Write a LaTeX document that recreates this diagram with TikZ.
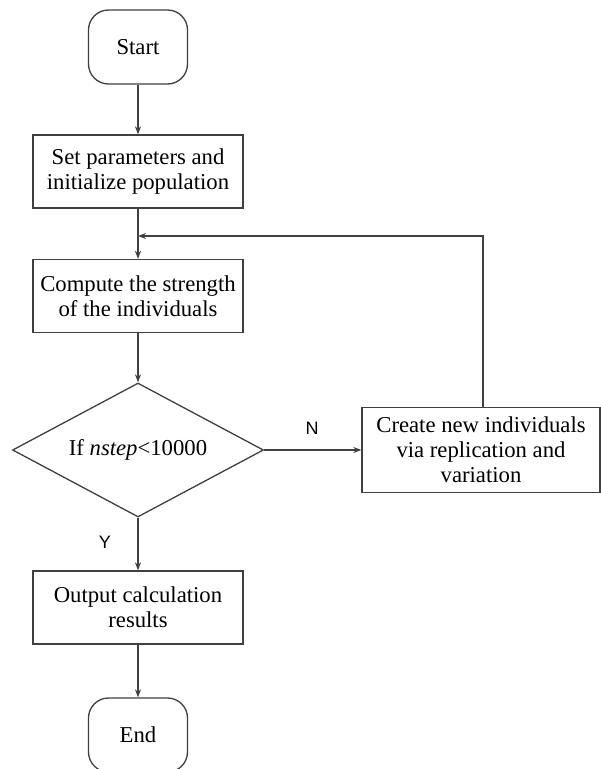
\documentclass[tikz,border=0pt]{standalone}
\usepackage{fontspec}
\setmainfont{Liberation Serif}
\newfontfamily\labfont{Liberation Sans}
\usetikzlibrary{shapes.geometric,arrows.meta}
\definecolor{linec}{HTML}{404040}
\tikzset{
  base/.style={draw=linec, line width=1.3pt, align=center, inner sep=0pt,
    font=\fontsize{22.7}{25}\selectfont},
  procbox/.style={base, rectangle, minimum width=210pt, minimum height=73pt},
  termbox/.style={base, rectangle, rounded corners=20pt, minimum width=99pt, minimum height=74pt},
  decbox/.style={base, diamond, minimum width=251pt, minimum height=134pt, aspect=1.87},
  conn/.style={draw=linec, line width=1.3pt, -{Stealth[length=8pt,width=6pt]}},
  lab/.style={font=\labfont\fontsize{18}{20}\selectfont, inner sep=0pt}
}
\begin{document}
\begin{tikzpicture}[x=1pt,y=-1pt]
\useasboundingbox (0,0) rectangle (601,769);
\clip (0,0) rectangle (601,769);
\fill[white] (0,0) rectangle (601,769);
\node[termbox] (start) at (138,47) {Start};
\node[procbox] (set) at (138,171.5) {Set parameters and\\initialize population};
\node[procbox] (comp) at (138,296) {Compute the strength\\of the individuals};
\node[decbox] (dec) at (138,450) {If \textit{nstep}<10000};
\node[procbox, minimum width=238pt, minimum height=85pt] (create) at (481,450) {Create new individuals\\via replication and\\variation};
\node[procbox] (out) at (138,607.5) {Output calculation\\results};
\node[termbox] (end) at (138,735) {End};
\node[lab] (nlab) at (312,428) {N};
\node[lab] (ylab) at (105,542) {Y};
\coordinate (up) at (483,236);
\coordinate (join) at (138,236);
\draw[conn] (start) -- (set);
\draw[conn] (set) -- (comp);
\draw[conn] (comp) -- (dec);
\draw[conn] (dec) -- (out);
\draw[conn] (out) -- (end);
\draw[conn] (dec.east) -- (create.west);
\draw[conn] (create.north -| up) -- (up) -- (join);
\end{tikzpicture}
\end{document}
